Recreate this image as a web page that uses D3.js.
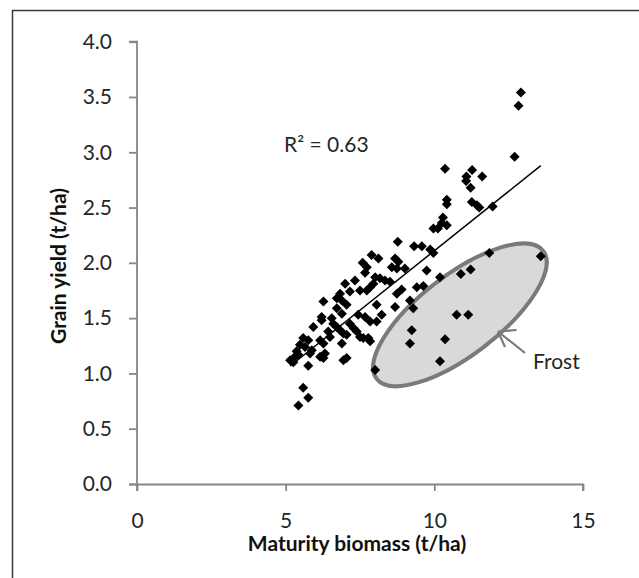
<!DOCTYPE html>
<html>
<head>
<meta charset="utf-8">
<script src="https://cdn.jsdelivr.net/npm/d3@7"></script>
<style>
  html, body { margin: 0; padding: 0; background: #fff; }
  svg { display: block; font-family: Lato, "Open Sans", sans-serif; }
</style>
</head>
<body>
<div id="chart"></div>
<script>
// ── Data ────────────────────────────────────────────────────────────────
const biomass = [
  12.91, 12.83, 12.70, 10.36, 11.27, 11.61, 11.08, 11.07, 11.22, 10.42,
  10.42, 11.26, 11.43, 11.51, 11.96, 10.29, 10.25, 10.42, 9.97, 10.12,
  8.77, 9.32, 9.58, 9.86, 9.97, 7.89, 8.12, 8.68, 8.79, 7.59,
  7.73, 8.57, 8.74, 9.01, 9.74, 7.67, 8.01, 8.17, 8.34, 10.19,
  7.33, 7.00, 7.95, 8.51, 7.84, 7.73, 9.41, 9.63, 8.90, 8.74,
  6.83, 7.16, 7.50, 6.72, 6.89, 6.27, 9.18, 8.06, 8.68, 6.21,
  6.72, 7.05, 6.89, 6.55, 6.60, 6.72, 6.83, 6.21, 7.44, 7.67,
  7.84, 8.06, 8.23, 5.93, 7.16, 7.28, 7.39, 7.50, 7.61, 6.94,
  7.05, 6.43, 6.49, 5.59, 5.76, 5.48, 5.65, 6.16, 6.27, 6.89,
  7.78, 7.84, 5.88, 5.82, 5.37, 5.43, 5.31, 6.16, 6.27, 6.32,
  5.15, 5.26, 6.94, 7.05, 5.76, 5.59, 5.76, 5.43, 9.29,
  // frost-affected crops
  13.58, 11.85, 10.89, 11.22, 10.75, 11.14, 9.24, 9.18, 10.36, 10.19, 8.01
];
const grainYield = [
  3.54, 3.42, 2.96, 2.85, 2.84, 2.78, 2.78, 2.74, 2.68, 2.57,
  2.53, 2.55, 2.52, 2.50, 2.51, 2.41, 2.36, 2.34, 2.31, 2.31,
  2.19, 2.15, 2.15, 2.12, 2.09, 2.07, 2.04, 2.04, 2.01, 2.00,
  1.96, 1.96, 1.95, 1.95, 1.93, 1.91, 1.87, 1.86, 1.84, 1.87,
  1.84, 1.81, 1.81, 1.83, 1.78, 1.75, 1.78, 1.79, 1.76, 1.72,
  1.72, 1.74, 1.75, 1.68, 1.66, 1.65, 1.66, 1.62, 1.60, 1.51,
  1.59, 1.62, 1.54, 1.50, 1.45, 1.42, 1.39, 1.48, 1.53, 1.51,
  1.47, 1.47, 1.53, 1.42, 1.45, 1.41, 1.38, 1.33, 1.32, 1.36,
  1.35, 1.38, 1.33, 1.32, 1.30, 1.26, 1.24, 1.30, 1.27, 1.27,
  1.32, 1.29, 1.21, 1.18, 1.20, 1.17, 1.15, 1.15, 1.14, 1.18,
  1.12, 1.10, 1.12, 1.14, 1.07, 0.87, 0.78, 0.71, 1.59,
  // frost-affected crops
  2.06, 2.09, 1.90, 1.94, 1.53, 1.53, 1.39, 1.27, 1.31, 1.11, 1.03
];
const xTicks = [0, 5, 10, 15];
const yTicks = [0, 0.5, 1, 1.5, 2, 2.5, 3, 3.5, 4];
const rSquaredLabel = "R\u00b2 = 0.63";

const points = biomass.map((b, i) => ({ x: b, y: grainYield[i] }));

// ── Frost ellipse (centre in data units) ────────────────────────────────
const frostCentre = { x: 10.86, y: 1.53 };

// ── SVG ─────────────────────────────────────────────────────────────────
const W = 639, H = 578;
const svg = d3.select("#chart").append("svg")
  .attr("width", W).attr("height", H);

// outer frame (runs off the right and bottom of the picture)
svg.append("rect")
  .attr("x", 12.5).attr("y", 10.5)
  .attr("width", 800).attr("height", 800)
  .attr("fill", "none")
  .attr("stroke", "#3a3a3a")
  .attr("stroke-width", 1.5);

// ── Scales ──────────────────────────────────────────────────────────────
const x = d3.scaleLinear().domain([0, 15]).range([137, 583]);
const y = d3.scaleLinear().domain([0, 4]).range([484, 41.7]);

const axisColor = "#868686";
const textColor = "#262626";
const fontSize = "21px";

// ── Axes ────────────────────────────────────────────────────────────────
const yAxis = svg.append("g")
  .attr("transform", `translate(${x(0)},0)`)
  .call(d3.axisLeft(y).tickValues(yTicks).tickSize(8).tickPadding(17)
    .tickFormat(d3.format(".1f")));

const xAxis = svg.append("g")
  .attr("transform", `translate(0,${y(0)})`)
  .call(d3.axisBottom(x).tickValues(xTicks).tickSize(7).tickPadding(22)
    .tickFormat(d3.format("d")));

[xAxis, yAxis].forEach((ax) => {
  ax.select(".domain").attr("stroke", axisColor).attr("stroke-width", 1.8);
  ax.selectAll(".tick line").attr("stroke", axisColor).attr("stroke-width", 1.8);
  ax.selectAll(".tick text")
    .attr("fill", textColor)
    .style("font-size", fontSize)
    .style("font-family", "Lato, sans-serif");
});
// let x axis line reach to the y tick at 0
xAxis.select(".domain").attr("d", `M${x(0) - 8},0.5H${x(15)}V7`);
yAxis.select(".domain").attr("d", `M-8,${y(4)}H0V${y(0) + 7}`);

// ── Frost ellipse ───────────────────────────────────────────────────────
svg.append("ellipse")
  .attr("cx", 0).attr("cy", 0)
  .attr("rx", 105).attr("ry", 40)
  .attr("transform",
    `translate(${x(frostCentre.x)},${y(frostCentre.y)}) rotate(-37.5)`)
  .attr("fill", "#d9d9d9")
  .attr("stroke", "#7a7a7a")
  .attr("stroke-width", 4);

// ── Points ──────────────────────────────────────────────────────────────
const diamond = d3.symbol().type(d3.symbolSquare).size(50);
svg.append("g").selectAll("path")
  .data(points)
  .join("path")
  .attr("d", diamond)
  .attr("transform", (d) => `translate(${x(d.x)},${y(d.y)}) rotate(45)`)
  .attr("fill", "#000");

// ── Linear trend line (least squares, over data range) ─────────────────
const mx = d3.mean(points, (d) => d.x);
const my = d3.mean(points, (d) => d.y);
const slope = d3.sum(points, (d) => (d.x - mx) * (d.y - my)) /
  d3.sum(points, (d) => (d.x - mx) ** 2);
const intercept = my - slope * mx;
const [xMin, xMax] = d3.extent(points, (d) => d.x);

svg.append("line")
  .attr("x1", x(xMin)).attr("y1", y(intercept + slope * xMin))
  .attr("x2", x(xMax)).attr("y2", y(intercept + slope * xMax))
  .attr("stroke", "#000")
  .attr("stroke-width", 1.5);

// ── Labels ──────────────────────────────────────────────────────────────
svg.append("text")
  .attr("x", 284).attr("y", 152)
  .attr("fill", textColor)
  .style("font-size", fontSize)
  .text(rSquaredLabel);

// frost arrow
svg.append("path")
  .attr("d", "M525,353 L498,331.5 M498,331.5 L516.5,330 M498,331.5 L505,347")
  .attr("fill", "none")
  .attr("stroke", "#7a7a7a")
  .attr("stroke-width", 2.2);

svg.append("text")
  .attr("x", 533).attr("y", 369)
  .attr("fill", textColor)
  .style("font-size", fontSize)
  .text("Frost");

// axis titles
svg.append("text")
  .attr("x", 357).attr("y", 551)
  .attr("text-anchor", "middle")
  .attr("fill", "#111")
  .style("font-size", fontSize)
  .style("font-weight", "700")
  .text("Maturity biomass (t/ha)");

svg.append("text")
  .attr("transform", "translate(66,266) rotate(-90)")
  .attr("text-anchor", "middle")
  .attr("fill", "#111")
  .style("font-size", fontSize)
  .style("font-weight", "700")
  .text("Grain yield (t/ha)");
</script>
</body>
</html>
